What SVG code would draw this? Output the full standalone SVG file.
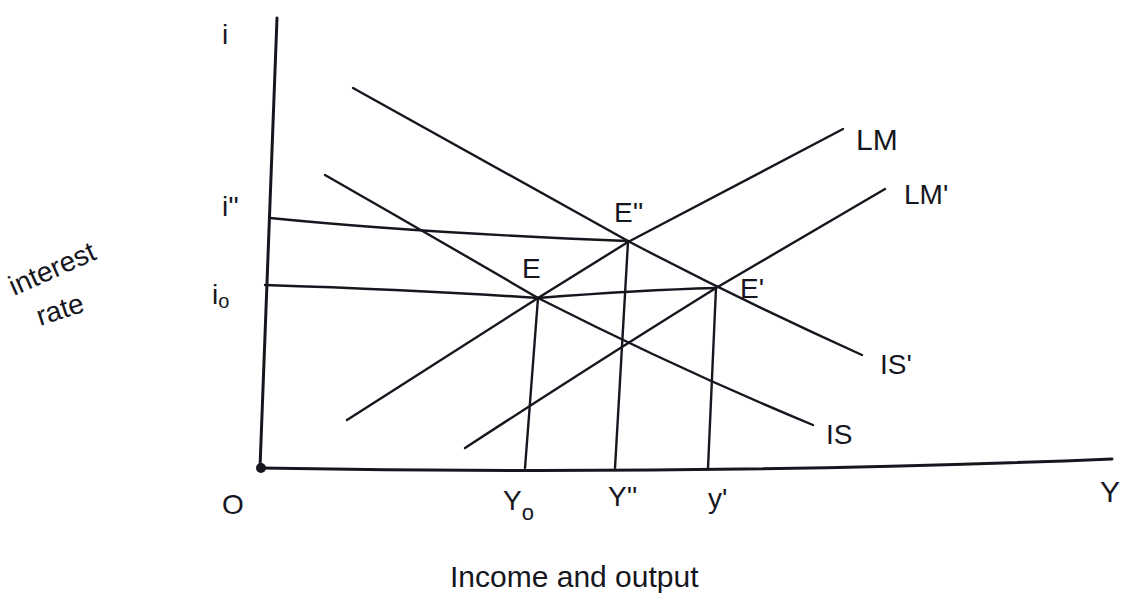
<svg xmlns="http://www.w3.org/2000/svg" width="1131" height="601" viewBox="0 0 1131 601">
<style>
.ln{fill:none;stroke:#16161e;stroke-width:2.4;stroke-linecap:round;stroke-linejoin:round}
.ax{fill:none;stroke:#16161e;stroke-width:3;stroke-linecap:round}
.t{font-family:"Liberation Sans","DejaVu Sans",sans-serif;fill:#16161e}
</style>
<rect width="1131" height="601" fill="#ffffff"/>
<g id="axes">
<path class="ax" d="M277,18 L260,468"/>
<path class="ax" d="M260,468 Q700,476 1112,459"/>
<circle cx="261" cy="468" r="5" fill="#16161e"/>
</g>
<g id="connectors">
<path id="IS-prime" class="ln" d="M353,88 Q500,170 628,241 Q740,300 862,355"/>
<path id="IS" class="ln" d="M325,175 Q430,235 538,298 Q680,370 813,425"/>
<path id="LM" class="ln" d="M347,420 L538,298 L628,242 L843,129"/>
<path id="LM-prime" class="ln" d="M465,448 Q600,360 716,288 L885,189"/>
<path id="i2-line" class="ln" d="M270,218 Q420,233 628,241"/>
<path id="i0-line" class="ln" d="M265,285 Q420,290 538,298 Q640,290 716,288"/>
<path id="Y0-line" class="ln" d="M538,298 L525,468"/>
<path id="Y2-line" class="ln" d="M628,242 L615,468"/>
<path id="Y1-line" class="ln" d="M716,288 L708,468"/>
</g>
<g id="labels">
<text class="t" x="222" y="44" font-size="28">i</text>
<text class="t" x="222" y="216" font-size="28">i''</text>
<text class="t" x="212" y="304" font-size="28">i<tspan font-size="20" dy="4">o</tspan></text>
<text class="t" font-size="28" transform="translate(14,296) rotate(-24)">interest</text>
<text class="t" font-size="28" transform="translate(40,326) rotate(-18)">rate</text>
<text class="t" x="222" y="514" font-size="28">O</text>
<text class="t" x="503" y="510" font-size="28">Y<tspan font-size="22" dy="10">o</tspan></text>
<text class="t" x="608" y="506" font-size="28">Y''</text>
<text class="t" x="708" y="508" font-size="28">y'</text>
<text class="t" x="1100" y="502" font-size="30">Y</text>
<text class="t" x="856" y="150" font-size="30">LM</text>
<text class="t" x="904" y="204" font-size="28">LM'</text>
<text class="t" x="614" y="222" font-size="28">E''</text>
<text class="t" x="522" y="278" font-size="28">E</text>
<text class="t" x="740" y="298" font-size="28">E'</text>
<text class="t" x="880" y="374" font-size="28">IS'</text>
<text class="t" x="826" y="444" font-size="28">IS</text>
<text class="t" x="450" y="587" font-size="30">Income and output</text>
</g>
</svg>
